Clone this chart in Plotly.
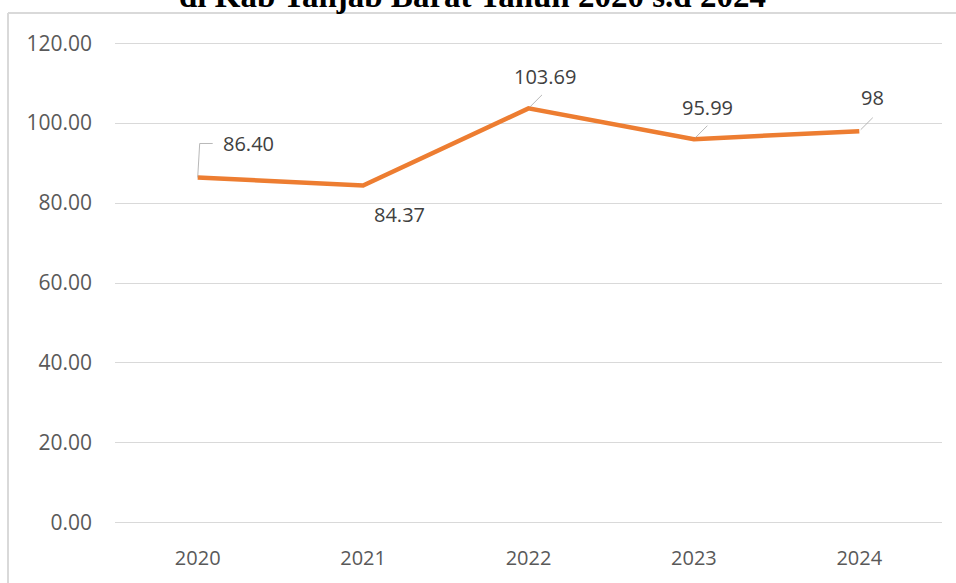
import plotly.graph_objects as go

years = ["2020", "2021", "2022", "2023", "2024"]
values = [86.40, 84.37, 103.69, 95.99, 98]
labels = ["86.40", "84.37", "103.69", "95.99", "98"]
y_ticks = [0, 20, 40, 60, 80, 100, 120]
title_text = "di Kab Tanjab Barat Tahun 2020 s.d 2024"

# label offsets (pixels) relative to each point
label_dx = [51, 36, 16, 14, 13]
label_dy = [34, -29, 32, 32, 34]

FONT = "Open Sans"
fig = go.Figure()
fig.add_trace(go.Scatter(
    x=years, y=values, mode="lines",
    line=dict(color="#ED7D31", width=4.5),
    hoverinfo="x+y", showlegend=False,
))

annotations = []
for i, (v, t, dx, dy) in enumerate(zip(values, labels, label_dx, label_dy)):
    annotations.append(dict(
        x=i, y=v, xref="x", yref="y", text=t, showarrow=False,
        xshift=dx, yshift=dy, font=dict(family=FONT, size=20, color="#404040"),
    ))
# diagonal leader lines
for i in range(2, len(values)):
    annotations.append(dict(
        x=i, y=values[i], xref="x", yref="y", text="", showarrow=True,
        ax=15, ay=-15, arrowhead=0, arrowwidth=0.8, arrowcolor="#a6a6a6", standoff=2,
    ))
# title (cropped at top, as in the source image)
annotations.append(dict(
    x=0.4323, y=1.060, xref="paper", yref="paper", xanchor="center", yanchor="bottom",
    text="<b>" + title_text + "</b>", showarrow=False, yshift=-3,
    font=dict(family="Liberation Serif", size=33, color="#000000"),
))

shapes = [
    # elbow leader line for first label
    dict(type="path", xref="x", yref="y", xsizemode="pixel", ysizemode="pixel",
         xanchor=0, yanchor=values[0], path="M0,0 L2,34 L15,34",
         line=dict(color="#a6a6a6", width=0.8)),
    # chart frame lines
    dict(type="line", xref="paper", yref="paper", x0=-0.1294, x1=1.02, y0=1.060, y1=1.060,
         line=dict(color="#d9d9d9", width=2)),
    dict(type="line", xref="paper", yref="paper", x0=-0.1294, x1=-0.1294, y0=1.060, y1=-0.13,
         line=dict(color="#d9d9d9", width=2)),
]

fig.update_layout(
    width=956, height=583,
    margin=dict(l=115, r=14, t=42, b=55),
    paper_bgcolor="white", plot_bgcolor="white",
    annotations=annotations, shapes=shapes,
    xaxis=dict(type="category", range=[-0.5, 4.5], showgrid=False, showline=False,
               ticks="", ticklabelstandoff=20,
               tickfont=dict(family=FONT, size=20, color="#595959")),
    yaxis=dict(range=[-0.3, 120.3], tickvals=y_ticks, tickformat=".2f",
               showgrid=True, gridcolor="#d9d9d9", gridwidth=1,
               zeroline=True, zerolinecolor="#d9d9d9", zerolinewidth=1,
               showline=False, ticks="", ticklabelstandoff=22,
               tickfont=dict(family=FONT, size=21, color="#595959")),
)

fig.write_html("out.html", config={"displayModeBar": False},
               post_script="document.body.style.margin='0';")
